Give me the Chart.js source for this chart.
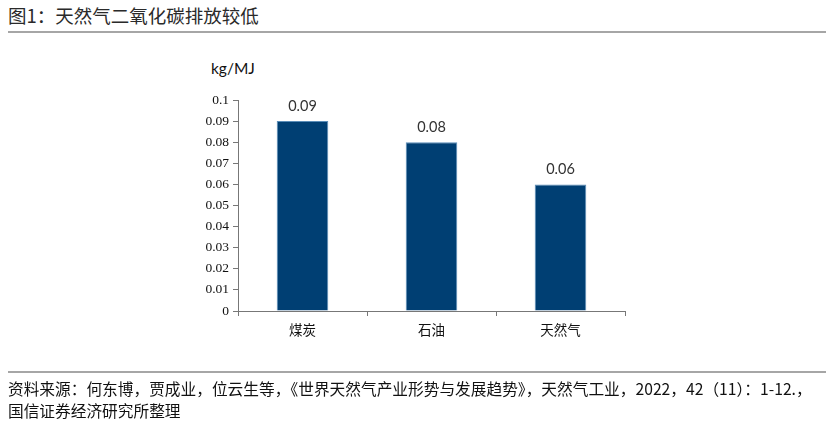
<!DOCTYPE html>
<html lang="zh">
<head>
  <meta charset="UTF-8" />
  <title>天然气二氧化碳排放较低</title>
  <script src="https://cdn.jsdelivr.net/npm/chart.js"></script>
  <style>
    body { margin:0; width:826px; height:430px; background:#fff; position:relative; overflow:hidden;
           font-family:"Noto Sans CJK SC", sans-serif; color:#333; }
    #title { position:absolute; left:8px; top:2px; font-size:18.5px; white-space:nowrap; color:#2a2a2a; }
    .rule { position:absolute; left:8px; right:0; height:2px; background:#a6a6a6; }
    #unit { position:absolute; left:211px; top:59px; font-family:Lato, "Open Sans", sans-serif; font-size:15.5px; color:#111; }
    #src { position:absolute; left:8px; top:378px; font-size:15.7px; line-height:22px; white-space:nowrap; color:#111; }
    #wrap { position:absolute; left:0; top:0; width:826px; height:430px; }
  </style>
</head>
<body>
  <div id="title">图1：天然气二氧化碳排放较低</div>
  <div class="rule" style="top:31px"></div>
  <div id="unit">kg/MJ</div>
  <div id="wrap"><canvas id="chart"></canvas></div>
  <div class="rule" style="top:371px"></div>
  <div id="src">资料来源：何东博，贾成业，位云生等，《世界天然气产业形势与发展趋势》，天然气工业，2022，42（11）：1-12.，<br>国信证券经济研究所整理</div>

  <script>
    const categories = ['煤炭', '石油', '天然气'];
    const emissions = [0.09, 0.08, 0.06];
    const yTicks = [0, 0.01, 0.02, 0.03, 0.04, 0.05, 0.06, 0.07, 0.08, 0.09, 0.1];

    // value labels above each bar
    const barLabels = {
      id: 'barLabels',
      afterDatasetsDraw(chart) {
        const ctx = chart.ctx;
        ctx.save();
        ctx.font = '14.5px Lato, "Open Sans", sans-serif';
        ctx.fillStyle = '#333';
        ctx.textAlign = 'center';
        ctx.textBaseline = 'bottom';
        chart.getDatasetMeta(0).data.forEach((bar, i) => {
          ctx.fillText(emissions[i].toFixed(2), bar.x, bar.y - 8);
        });
        ctx.restore();
      }
    };

    new Chart(document.getElementById('chart'), {
      type: 'bar',
      data: {
        labels: categories,
        datasets: [{
          data: emissions,
          backgroundColor: '#003f73',
          borderColor: '#5a8db8',
          borderWidth: 1,
          categoryPercentage: 1,
          barPercentage: 0.4
        }]
      },
      options: {
        responsive: true,
        maintainAspectRatio: false,
        animation: false,
        layout: { padding: { left: 0, right: 201, top: 100, bottom: 0 } },
        plugins: { legend: { display: false }, tooltip: { enabled: false } },
        scales: {
          x: {
            afterFit: s => { s.height = 119; },
            grid: { display: true, drawOnChartArea: false, offset: true, tickLength: 5, color: '#777' },
            border: { color: '#777', width: 1 },
            ticks: { color: '#111', padding: 6, font: { family: '"Noto Sans CJK SC"', size: 13.5 } }
          },
          y: {
            min: 0, max: 0.1,
            afterFit: s => { s.width = 238; },
            afterBuildTicks: s => { s.ticks = yTicks.map(v => ({ value: v })); },
            grid: { drawOnChartArea: false, tickLength: 5, color: '#777' },
            border: { color: '#777', width: 1 },
            ticks: {
              color: '#111', padding: 4,
              font: { family: '"Liberation Serif"', size: 13.5 },
              callback: v => String(+v.toFixed(2))
            }
          }
        }
      },
      plugins: [barLabels]
    });
  </script>
</body>
</html>
